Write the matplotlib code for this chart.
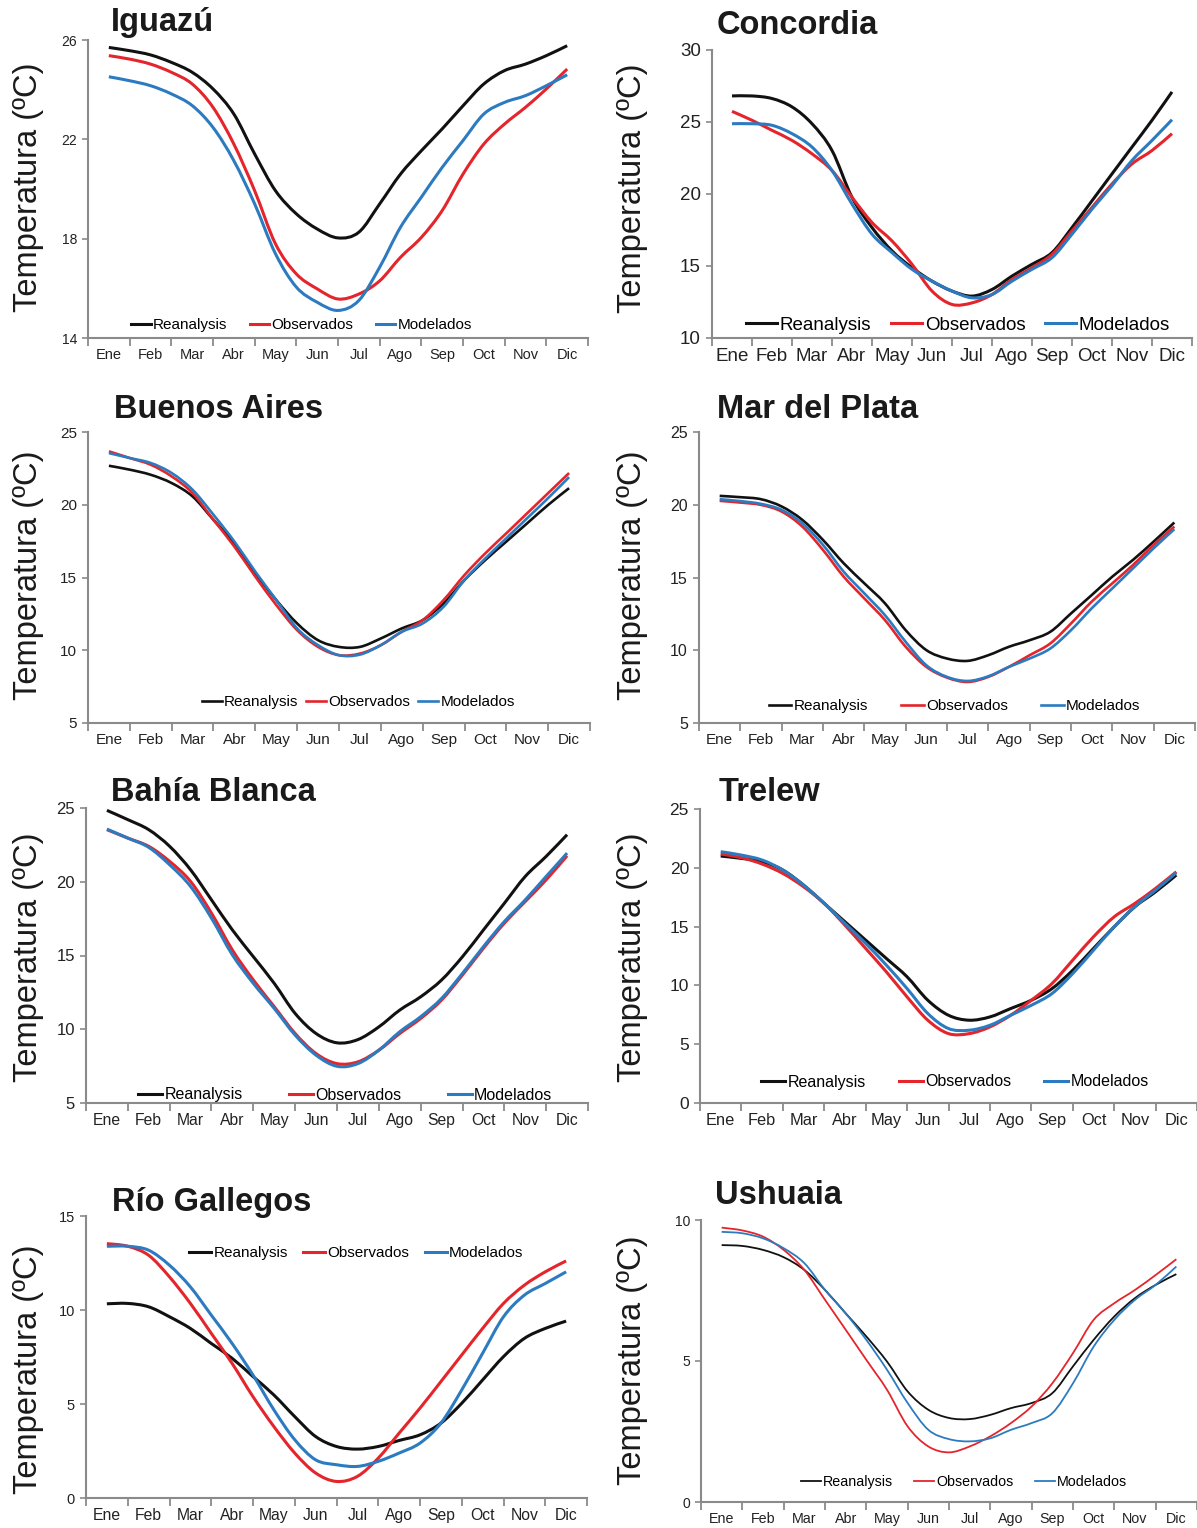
import numpy as np
import matplotlib
matplotlib.use('Agg')
import matplotlib.pyplot as plt
from matplotlib.path import Path
from matplotlib.patches import PathPatch
from matplotlib.lines import Line2D

plt.rcParams['font.family'] = ['Liberation Sans', 'DejaVu Sans']

W, H = 1197, 1528

months = ['Ene', 'Feb', 'Mar', 'Abr', 'May', 'Jun', 'Jul', 'Ago', 'Sep', 'Oct', 'Nov', 'Dic']
series_names = ['Reanalysis', 'Observados', 'Modelados']
# values read every half month, from mid Ene to mid Dic
x_pos = np.arange(23) / 2.0

iguazu_rea = [25.70, 25.57, 25.40, 25.10, 24.70, 24.03, 23.02, 21.41, 19.93, 19.00, 18.39, 18.03,
              18.26, 19.40, 20.60, 21.54, 22.42, 23.35, 24.23, 24.77, 25.03, 25.37, 25.77]
iguazu_obs = [25.37, 25.23, 25.03, 24.70, 24.23, 23.29, 21.81, 19.93, 17.79, 16.58, 15.98, 15.57,
              15.77, 16.30, 17.25, 18.05, 19.13, 20.60, 21.81, 22.62, 23.29, 24.03, 24.83]
iguazu_mod = [24.52, 24.36, 24.16, 23.83, 23.36, 22.48, 21.14, 19.40, 17.39, 16.05, 15.44, 15.11,
              15.51, 16.85, 18.46, 19.67, 20.87, 21.95, 23.02, 23.49, 23.76, 24.16, 24.60]

concordia_rea = [26.81, 26.81, 26.63, 26.05, 24.88, 23.02, 19.77, 17.67, 16.05, 14.88, 13.95, 13.26,
                 12.91, 13.37, 14.30, 15.12, 15.93, 17.67, 19.53, 21.40, 23.26, 25.12, 27.09]
concordia_obs = [25.74, 25.12, 24.42, 23.72, 22.79, 21.63, 19.77, 18.02, 16.74, 15.12, 13.26, 12.33,
                 12.44, 13.02, 14.07, 14.88, 15.81, 17.44, 19.07, 20.70, 22.09, 23.02, 24.19]
concordia_mod = [24.88, 24.88, 24.77, 24.19, 23.26, 21.63, 19.30, 17.21, 15.93, 14.77, 13.95, 13.26,
                 12.79, 13.02, 13.95, 14.77, 15.58, 17.21, 18.95, 20.58, 22.33, 23.72, 25.16]

bsas_rea = [22.68, 22.41, 22.06, 21.49, 20.57, 18.96, 17.35, 15.29, 13.45, 11.84, 10.69, 10.23,
            10.23, 10.81, 11.50, 12.07, 13.22, 14.83, 16.21, 17.47, 18.73, 19.99, 21.14]
bsas_obs = [23.67, 23.21, 22.75, 21.95, 20.80, 18.96, 17.12, 15.06, 13.11, 11.38, 10.23, 9.66,
            9.77, 10.35, 11.27, 12.07, 13.45, 15.17, 16.67, 18.04, 19.42, 20.80, 22.18]
bsas_mod = [23.55, 23.21, 22.87, 22.18, 21.03, 19.31, 17.47, 15.40, 13.45, 11.50, 10.35, 9.66,
            9.70, 10.35, 11.27, 11.84, 12.99, 14.83, 16.32, 17.70, 19.08, 20.46, 21.90]

mdp_rea = [20.61, 20.52, 20.38, 19.88, 18.96, 17.58, 15.98, 14.60, 13.22, 11.38, 10.01, 9.43,
           9.27, 9.66, 10.24, 10.69, 11.27, 12.53, 13.79, 15.06, 16.21, 17.47, 18.78]
mdp_obs = [20.27, 20.15, 19.99, 19.53, 18.50, 16.89, 15.06, 13.56, 12.07, 10.24, 8.86, 8.12,
           7.82, 8.17, 8.86, 9.66, 10.47, 11.84, 13.34, 14.60, 15.86, 17.24, 18.50]
mdp_mod = [20.38, 20.25, 20.06, 19.65, 18.73, 17.24, 15.40, 13.91, 12.41, 10.58, 8.97, 8.17,
           7.89, 8.21, 8.86, 9.43, 10.12, 11.38, 12.88, 14.25, 15.63, 17.01, 18.32]

bahia_rea = [24.84, 24.21, 23.53, 22.40, 20.81, 18.77, 16.73, 14.92, 13.11, 11.07, 9.71, 9.08,
             9.30, 10.16, 11.30, 12.20, 13.34, 14.92, 16.73, 18.54, 20.36, 21.72, 23.19]
bahia_obs = [23.53, 22.96, 22.40, 21.38, 20.02, 17.87, 15.37, 13.34, 11.53, 9.71, 8.35, 7.67,
             7.79, 8.58, 9.71, 10.73, 11.98, 13.68, 15.49, 17.19, 18.66, 20.13, 21.76]
bahia_mod = [23.57, 22.96, 22.33, 21.15, 19.68, 17.53, 15.04, 13.11, 11.41, 9.60, 8.24, 7.49,
             7.67, 8.58, 9.83, 10.85, 12.09, 13.79, 15.60, 17.30, 18.77, 20.36, 21.94]

trelew_rea = [21.00, 20.80, 20.52, 19.81, 18.53, 16.97, 15.41, 13.85, 12.29, 10.73, 8.74, 7.46,
              7.04, 7.32, 8.03, 8.74, 9.73, 11.29, 13.14, 14.98, 16.69, 17.96, 19.38]
trelew_obs = [21.17, 20.86, 20.32, 19.52, 18.39, 16.97, 15.12, 13.14, 11.15, 9.02, 7.04, 5.90,
              5.90, 6.47, 7.46, 8.74, 10.16, 12.15, 14.13, 15.83, 16.97, 18.25, 19.66]
trelew_mod = [21.37, 21.08, 20.66, 19.81, 18.53, 16.97, 15.27, 13.57, 11.72, 9.73, 7.61, 6.33,
              6.19, 6.61, 7.46, 8.31, 9.31, 11.01, 12.99, 14.98, 16.69, 18.10, 19.58]

gallegos_rea = [10.33, 10.35, 10.17, 9.64, 9.02, 8.22, 7.43, 6.46, 5.48, 4.33, 3.27, 2.74,
                2.60, 2.74, 3.06, 3.36, 3.98, 5.04, 6.28, 7.52, 8.49, 9.02, 9.41]
gallegos_obs = [13.53, 13.39, 12.91, 11.76, 10.35, 8.76, 7.16, 5.39, 3.80, 2.39, 1.33, 0.88,
                1.15, 2.12, 3.45, 4.78, 6.19, 7.61, 9.02, 10.35, 11.32, 12.03, 12.61]
gallegos_mod = [13.39, 13.39, 13.18, 12.38, 11.23, 9.73, 8.22, 6.54, 4.69, 3.10, 2.03, 1.77,
                1.68, 1.95, 2.39, 2.92, 3.98, 5.75, 7.70, 9.64, 10.79, 11.41, 12.03]

ushuaia_rea = [9.11, 9.08, 8.94, 8.68, 8.23, 7.52, 6.69, 5.87, 4.98, 3.92, 3.27, 2.98,
               2.94, 3.09, 3.33, 3.51, 3.86, 4.81, 5.75, 6.58, 7.23, 7.70, 8.08]
ushuaia_obs = [9.73, 9.63, 9.41, 8.94, 8.23, 7.17, 6.11, 5.04, 3.98, 2.68, 1.97, 1.76,
               1.97, 2.33, 2.80, 3.39, 4.21, 5.28, 6.46, 7.05, 7.52, 8.05, 8.61]
ushuaia_mod = [9.58, 9.53, 9.35, 9.00, 8.47, 7.52, 6.69, 5.75, 4.69, 3.51, 2.56, 2.23,
               2.15, 2.26, 2.56, 2.80, 3.15, 4.21, 5.51, 6.46, 7.17, 7.70, 8.35]

colors = ['#111111', '#e4252b', '#2c7bc0']
axis_gray = '#8a8a8a'
text_col = '#222222'

# layout in reference pixels: box = (left, right, top, bottom)
panels = [
    dict(title='Iguazú', data=(iguazu_rea, iguazu_obs, iguazu_mod), ylim=(14, 26), yticks=[14, 18, 22, 26],
         box=(88, 588, 40, 338), title_xy=(111, 23), ylab_xy=(29, 187), lw=2.2,
         tick_fs=10, month_fs=10.5, leg_fs=11, leg_xy=(131, 325), leg_hl=1.3, leg_cs=1.44),
    dict(title='Concordia', data=(concordia_rea, concordia_obs, concordia_mod), ylim=(10, 30),
         yticks=[10, 15, 20, 25, 30],
         box=(712, 1192, 50, 338), title_xy=(717, 25), ylab_xy=(633, 188), lw=2.2,
         tick_fs=13.5, month_fs=13.5, leg_fs=13.5, leg_xy=(746, 325), leg_hl=1.65, leg_cs=1.05),
    dict(title='Buenos Aires', data=(bsas_rea, bsas_obs, bsas_mod), ylim=(5, 25), yticks=[5, 10, 15, 20, 25],
         box=(88, 590, 432, 723), title_xy=(114, 410), ylab_xy=(29, 575), lw=1.9,
         tick_fs=11, month_fs=11, leg_fs=11, leg_xy=(202, 702), leg_hl=1.3, leg_cs=0.52),
    dict(title='Mar del Plata', data=(mdp_rea, mdp_obs, mdp_mod), ylim=(5, 25), yticks=[5, 10, 15, 20, 25],
         box=(699, 1195, 432, 723), title_xy=(717, 410), ylab_xy=(633, 575), lw=1.9,
         tick_fs=11.5, month_fs=11, leg_fs=11, leg_xy=(769, 706), leg_hl=1.45, leg_cs=2.2),
    dict(title='Bahía Blanca', data=(bahia_rea, bahia_obs, bahia_mod), ylim=(5, 25), yticks=[5, 10, 15, 20, 25],
         box=(86, 588, 808, 1103), title_xy=(111, 793), ylab_xy=(29, 957), lw=2.2,
         tick_fs=12, month_fs=11.3, leg_fs=11.5, leg_xy=(138, 1095), leg_hl=1.5, leg_cs=2.9),
    dict(title='Trelew', data=(trelew_rea, trelew_obs, trelew_mod), ylim=(0, 25), yticks=[0, 5, 10, 15, 20, 25],
         box=(700, 1197, 809, 1103), title_xy=(719, 792), ylab_xy=(633, 957), lw=2.2,
         tick_fs=12.5, month_fs=11.8, leg_fs=11.5, leg_xy=(761, 1082), leg_hl=1.5, leg_cs=2.07),
    dict(title='Río Gallegos', data=(gallegos_rea, gallegos_obs, gallegos_mod), ylim=(0, 15), yticks=[0, 5, 10, 15],
         box=(86, 587, 1216, 1498), title_xy=(112, 1203), ylab_xy=(29, 1369), lw=2.2,
         tick_fs=10.5, month_fs=11.3, leg_fs=11, leg_xy=(189, 1253), leg_hl=1.45, leg_cs=1.0),
    dict(title='Ushuaia', data=(ushuaia_rea, ushuaia_obs, ushuaia_mod), ylim=(0, 10), yticks=[0, 5, 10],
         box=(701, 1197, 1220, 1502), title_xy=(715, 1195), ylab_xy=(633, 1360), lw=1.3,
         tick_fs=10, month_fs=10.3, leg_fs=10.3, leg_xy=(801, 1482), leg_hl=1.4, leg_cs=1.47),
]


def smooth_path(xs, ys):
    # Excel-style smoothed line: Catmull-Rom segments as cubic Bezier through the points
    pts = np.column_stack([xs, ys]).astype(float)
    ext = np.vstack([pts[0], pts, pts[-1]])
    verts = [pts[0]]
    codes = [Path.MOVETO]
    for i in range(len(pts) - 1):
        p0, p1, p2, p3 = ext[i], ext[i + 1], ext[i + 2], ext[i + 3]
        verts += [p1 + (p2 - p0) / 6.0, p2 - (p3 - p1) / 6.0, p2]
        codes += [Path.CURVE4] * 3
    return Path(verts, codes)


fig = plt.figure(figsize=(W / 100, H / 100), dpi=100)

for p in panels:
    x0, x1, y0, y1 = p['box']
    ax = fig.add_axes([x0 / W, 1 - y1 / H, (x1 - x0) / W, (y1 - y0) / H])
    handles = []
    for vals, c, name in zip(p['data'], colors, series_names):
        ax.add_patch(PathPatch(smooth_path(x_pos, vals), fill=False, edgecolor=c, lw=p['lw'],
                               capstyle='butt', joinstyle='round'))
        handles.append(Line2D([], [], color=c, lw=p['lw'], label=name))

    ax.set_xlim(-0.5, 11.5)
    ax.set_ylim(*p['ylim'])
    ax.set_xticks(range(12))
    ax.set_xticklabels(months)
    ax.set_xticks(np.arange(-0.5, 12, 1), minor=True)
    ax.set_yticks(p['yticks'])
    ax.tick_params(axis='x', which='major', length=0, pad=7,
                   labelsize=p['month_fs'], labelcolor=text_col)
    ax.tick_params(axis='x', which='minor', length=6, width=1.3, color=axis_gray, direction='out')
    ax.tick_params(axis='y', length=4, width=1.2, color=axis_gray, direction='out', pad=4,
                   labelsize=p['tick_fs'], labelcolor=text_col)
    for s in ['top', 'right']:
        ax.spines[s].set_visible(False)
    for s in ['left', 'bottom']:
        ax.spines[s].set_color(axis_gray)
        ax.spines[s].set_linewidth(1.5)
    ax.patch.set_visible(False)

    lx, ly = p['leg_xy']
    ax.legend(handles=handles, ncol=3, loc='center left',
              bbox_to_anchor=((lx - x0) / (x1 - x0), (y1 - ly) / (y1 - y0)),
              frameon=False, fontsize=p['leg_fs'], handlelength=p['leg_hl'],
              handletextpad=0.15, columnspacing=p['leg_cs'],
              borderpad=0, borderaxespad=0)

    tx, ty = p['title_xy']
    fig.text(tx / W, 1 - ty / H, p['title'], fontsize=23.5, fontweight='bold',
             ha='left', va='center', color='#1a1a1a')
    yx, yy = p['ylab_xy']
    fig.text(yx / W, 1 - yy / H, 'Temperatura (ºC)', fontsize=23.5, rotation=90,
             ha='center', va='center', color='#1a1a1a')

fig.savefig('out.png', dpi=100)
